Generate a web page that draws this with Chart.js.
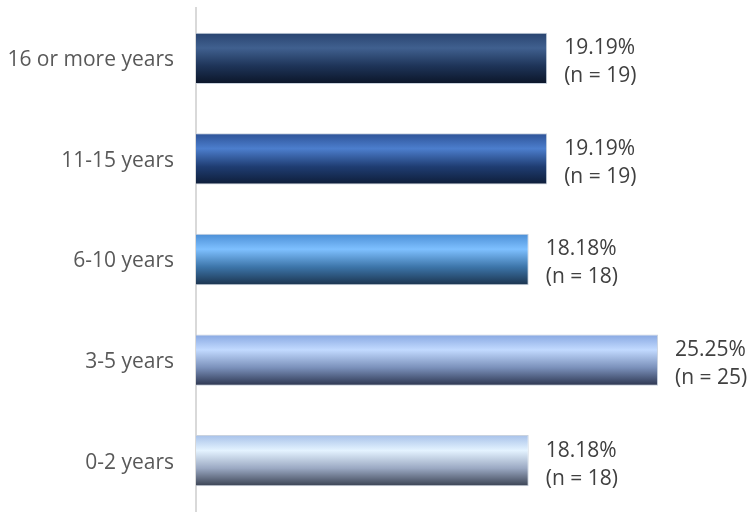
<!DOCTYPE html>
<html><head><meta charset="utf-8">
<script src="https://cdn.jsdelivr.net/npm/chart.js@4"></script>
<style>html,body{margin:0;padding:0;background:#fff}#wrap{width:749px;height:512px}</style>
</head><body><div id="wrap"><canvas id="c" width="749" height="512"></canvas></div>
<script>
const categories = ["16 or more years", "11-15 years", "6-10 years", "3-5 years", "0-2 years"];
const percents = [19.19, 19.19, 18.18, 25.25, 18.18];
const counts = [19, 19, 18, 25, 18];
const gradientStops = [
  ["#28436f", "#40608f", "#1e3458", "#0b1528"],
  ["#2d5296", "#4c7ecd", "#1f3d72", "#0e1d38"],
  ["#4b8ed5", "#7ec0ff", "#3c74a8", "#1b334d"],
  ["#87a7e1", "#c2daff", "#7a90ba", "#2b344e"],
  ["#a7c1e9", "#e4f3ff", "#9aa8c2", "#394151"]
];
const FONT = '"Open Sans", sans-serif';

const gradPlugin = {
  id: 'grad',
  beforeDatasetsDraw(chart) {
    const meta = chart.getDatasetMeta(0);
    const ctx = chart.ctx;
    meta.data.forEach((el, i) => {
      const h = el.height;
      const top = el.y - h / 2;
      const g = ctx.createLinearGradient(0, top, 0, top + h);
      const s = gradientStops[i];
      g.addColorStop(0, s[0]);
      g.addColorStop(0.3, s[1]);
      g.addColorStop(0.65, s[2]);
      g.addColorStop(1, s[3]);
      el.options = Object.assign({}, el.options, { backgroundColor: g });
    });
  },
  afterDatasetsDraw(chart) {
    const meta = chart.getDatasetMeta(0);
    const ctx = chart.ctx;
    ctx.save();
    ctx.font = '21px ' + FONT;
    ctx.fillStyle = '#404040';
    ctx.textAlign = 'left';
    ctx.textBaseline = 'middle';
    meta.data.forEach((el, i) => {
      const x = el.x + 17;
      ctx.fillText(percents[i].toFixed(2) + '%', x, el.y - 10);
      ctx.fillText('(n = ' + counts[i] + ')', x, el.y + 18);
    });
    ctx.restore();
  }
};

new Chart(document.getElementById('c'), {
  type: 'bar',
  data: {
    labels: categories,
    datasets: [{
      data: percents,
      backgroundColor: (c) => gradientStops[c.dataIndex][1],
      borderColor: '#c9d2de',
      borderWidth: 1,
      borderSkipped: 'left',
      barPercentage: 0.51,
      categoryPercentage: 1.0
    }]
  },
  options: {
    indexAxis: 'y',
    responsive: false,
    animation: false,
    layout: { padding: { top: 8, bottom: 1, right: 4, left: 0 } },
    plugins: { legend: { display: false }, tooltip: { enabled: false } },
    scales: {
      x: { display: false, min: 0, max: 30 },
      y: {
        grid: { display: false, drawTicks: false },
        border: { display: true, color: '#d9d9d9', width: 2 },
        ticks: { color: '#595959', padding: 22, labelOffset: 2, font: { family: FONT, size: 21 } },
        afterFit(scale) { scale.width = 196; scale.paddingTop = 0; scale.paddingBottom = 0; }
      }
    }
  },
  plugins: [gradPlugin]
});
</script></body></html>
